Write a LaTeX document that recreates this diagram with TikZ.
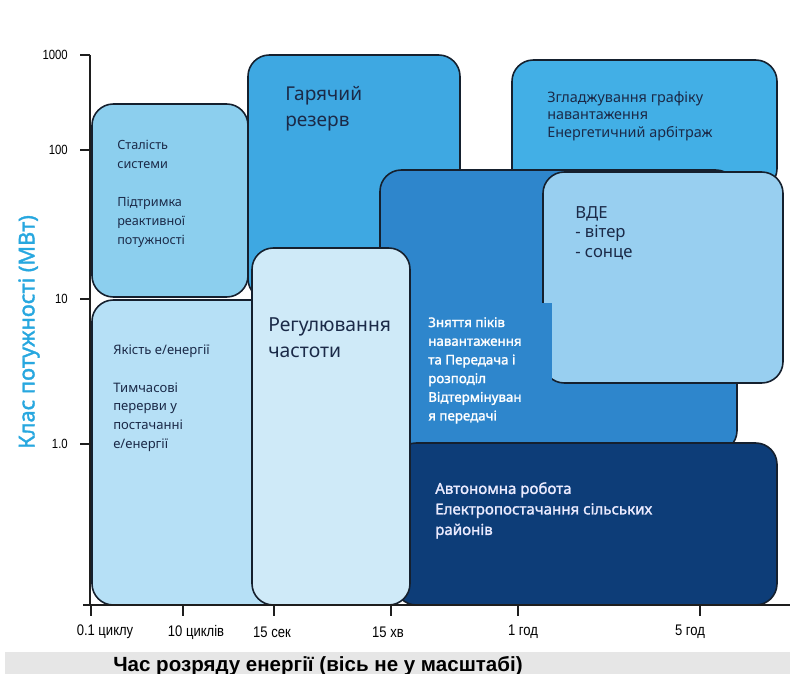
\documentclass[tikz,border=0pt]{standalone}
\usepackage{fontspec}
\setmainfont{Noto Sans}
\newfontfamily\semifont[FakeBold=1.6]{Noto Sans}
\newfontfamily\axisfont[FakeStretch=0.85]{Liberation Sans}
\newfontfamily\titlefont{Liberation Sans}
\usetikzlibrary{positioning}

\definecolor{zoneedge}{HTML}{15202E}
\definecolor{axisline}{HTML}{1E1E1E}
\definecolor{notetext}{HTML}{1B2A48}
\definecolor{stabblue}{HTML}{8CCFEE}
\definecolor{qualblue}{HTML}{B6E0F6}
\definecolor{hotblue}{HTML}{3EA8E2}
\definecolor{freqblue}{HTML}{CFEAF8}
\definecolor{peakblue}{HTML}{2E86CC}
\definecolor{smoothblue}{HTML}{42AFE6}
\definecolor{resblue}{HTML}{98CFF0}
\definecolor{navyblue}{HTML}{0D3D78}
\definecolor{ylabcol}{HTML}{27A7DF}
\definecolor{bandgray}{HTML}{E6E6E6}

\begin{document}
\begin{tikzpicture}[x=0.75pt, y=-0.75pt,
  zone/.style={draw=zoneedge, line width=1.2pt, rounded corners=16pt},
  note/.style={anchor=north west, inner sep=0pt, align=left, text=notetext},
  axis/.style={draw=axisline, line width=1.3pt},
  ylbl/.style={anchor=east, inner sep=0pt, font=\axisfont\fontsize{10}{11}\selectfont},
  xlbl/.style={inner sep=0pt, font=\axisfont\fontsize{11.5}{13}\selectfont}
]
  \useasboundingbox (0,0) rectangle (790,674);

  \draw[zone, fill=hotblue] (248,55) rectangle (460,300);
  \draw[zone, fill=stabblue] (92,104) rectangle (248,297);
  \draw[zone, fill=qualblue] (92,300) rectangle (300,605);
  \draw[zone, fill=smoothblue] (512,60) rectangle (777,190);
  \draw[zone, fill=peakblue] (380,170) rectangle (737,452);
  \draw[zone, fill=navyblue] (395,443) rectangle (777,605);
  \draw[zone, fill=freqblue] (252,248) rectangle (410,605);
  \draw[zone, fill=resblue] (543,172) rectangle (783,383);
  \fill[peakblue] (413,303) rectangle (552,428);

  \node[note, font=\fontsize{9.5}{14.25}\selectfont] (stab) at (117,140)
    {Сталість\\системи\\[14.25pt]Підтримка\\реактивної\\потужності};
  \node[note, font=\fontsize{9.8}{14}\selectfont] (qual) at (113,345)
    {Якість е/енергії\\[14pt]Тимчасові\\перерви у\\постачанні\\е/енергії};
  \node[note, font=\fontsize{14.3}{19.5}\selectfont] (hot) at (285,86)
    {Гарячий\\резерв};
  \node[note, font=\fontsize{14.5}{20}\selectfont] (freq) at (268,317)
    {Регулювання\\частоти};
  \node[note, text=white, font=\semifont\fontsize{10}{14}\selectfont] (peak) at (428,317)
    {Зняття піків\\навантаження\\та Передача і\\розподіл\\Відтермінуван\\я передачі};
  \node[note, font=\fontsize{10.8}{13.2}\selectfont] (smooth) at (547,91)
    {Згладжування графіку\\навантаження\\Енергетичний арбітраж};
  \node[note, font=\fontsize{12.5}{14.6}\selectfont] (res) at (575,206)
    {ВДЕ\\- вітер\\- сонце};
  \node[note, text=white!92!blue, font=\semifont\fontsize{11.3}{15.4}\selectfont] (auto) at (435,482)
    {Автономна робота\\Електропостачання сільських\\районів};

  \draw[axis] (90,55) -- (90,605);
  \draw[axis] (83,605) -- (790,605);
  \foreach \y/\v [count=\i] in {55/1000, 150/100, 299/10, 444/1.0} {
    \draw[axis] (80,\y) -- (90,\y);
    \node[ylbl] (ytick\i) at (68,\y) {\v};
  }
  \foreach \x/\lx/\t [count=\i] in {91/105/0.1 циклу, 183/196/10 циклів, 274/272/15 сек,
      391/388/15 хв, 518/523/1 год, 700/690/5 год} {
    \draw[axis] (\x,605) -- (\x,616);
    \node[xlbl] (xtick\i) at (\lx,632) {\t};
  }
  \node[rotate=90, text=ylabcol, font=\semifont\fontsize{16.3}{18}\selectfont] (ytitle) at (29,332)
    {Клас потужності (МВт)};

  \fill[bandgray] (5,652) rectangle (790,674);
  \node[anchor=base west, inner sep=0pt, font=\titlefont\bfseries\fontsize{15.4}{17}\selectfont] (xtitle)
    at (113,671) {Час розряду енергії (вісь не у масштабі)};
\end{tikzpicture}
\end{document}
